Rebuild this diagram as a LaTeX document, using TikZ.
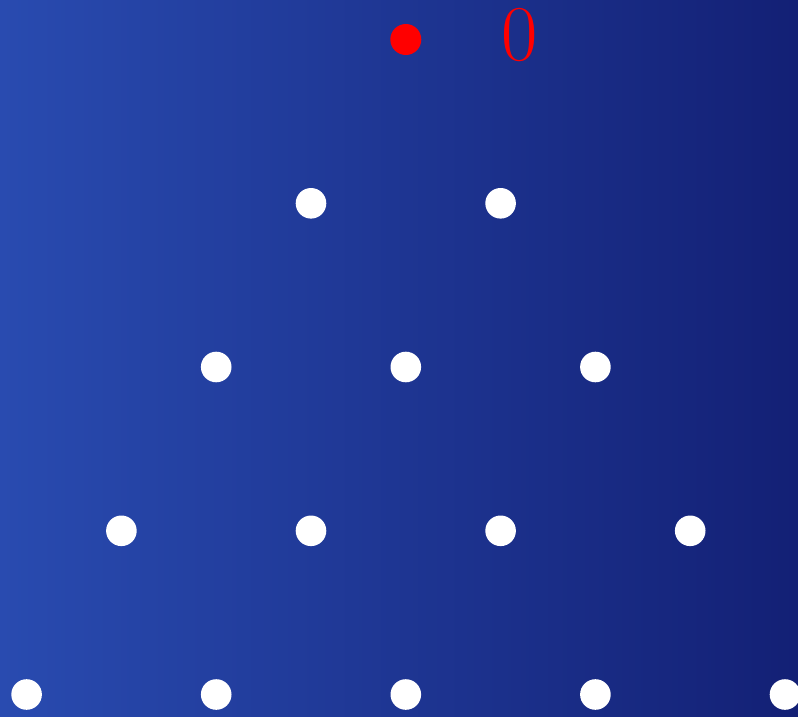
\documentclass[tikz,border=0pt]{standalone}
\definecolor{bgleft}{RGB}{41,75,176}
\definecolor{bgright}{RGB}{19,32,117}
\definecolor{dotred}{RGB}{255,0,0}
\tikzset{
  wdot/.style={circle,fill=white,draw=none,minimum size=30.6pt,inner sep=0pt},
  rdot/.style={circle,fill=dotred,draw=none,minimum size=31pt,inner sep=0pt},
  lbl/.style={text=dotred,inner sep=0pt,anchor=base,font=\fontsize{79}{79}\selectfont}
}
\begin{document}
\begin{tikzpicture}[x=1pt,y=-1pt]
\useasboundingbox (0,0) rectangle (798,717);
\shade[left color=bgleft,right color=bgright] (0,0) rectangle (798,717);
\clip (0,0) rectangle (798,717);
\node[rdot] (r) at (405.8,39.5) {};
\node[lbl] (zero) at (519.7,60) {0};
% row 2
\node[wdot] (a1) at (311.0,203.3) {};
\node[wdot] (a2) at (500.6,203.3) {};
% row 3
\node[wdot] (b1) at (216.2,367.0) {};
\node[wdot] (b2) at (405.8,367.0) {};
\node[wdot] (b3) at (595.4,367.0) {};
% row 4
\node[wdot] (c1) at (121.4,530.8) {};
\node[wdot] (c2) at (311.0,530.8) {};
\node[wdot] (c3) at (500.6,530.8) {};
\node[wdot] (c4) at (690.2,530.8) {};
% row 5
\node[wdot] (d1) at (26.6,694.5) {};
\node[wdot] (d2) at (216.2,694.5) {};
\node[wdot] (d3) at (405.8,694.5) {};
\node[wdot] (d4) at (595.4,694.5) {};
\node[wdot] (d5) at (785.0,694.5) {};
\end{tikzpicture}
\end{document}
